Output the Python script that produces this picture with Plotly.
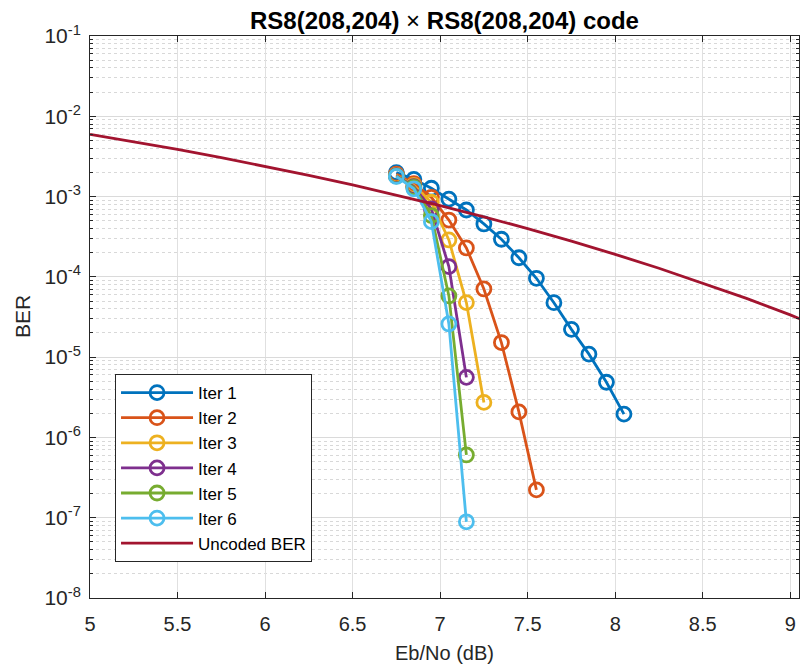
import plotly.graph_objects as go

# ---- data ----
ebno_iter = [6.75, 6.85, 6.95, 7.05, 7.15, 7.25, 7.35, 7.45, 7.55, 7.65, 7.75, 7.85, 7.95, 8.05]

iter1_ber = [1.99e-3, 1.64e-3, 1.27e-3, 9.3e-4, 6.8e-4, 4.56e-4, 2.94e-4, 1.73e-4,
             9.6e-5, 4.77e-5, 2.22e-5, 1.09e-5, 4.87e-6, 1.95e-6]
iter2_ber = [1.9e-3, 1.45e-3, 9.8e-4, 5.1e-4, 2.29e-4, 7.07e-5, 1.52e-5, 2.08e-6, 2.22e-7]
iter3_ber = [1.85e-3, 1.38e-3, 8.5e-4, 2.88e-4, 4.78e-5, 2.73e-6]
iter4_ber = [1.82e-3, 1.33e-3, 7.0e-4, 1.34e-4, 5.6e-6]
iter5_ber = [1.8e-3, 1.3e-3, 5.8e-4, 5.78e-5, 6.05e-7]
iter6_ber = [1.78e-3, 1.25e-3, 4.87e-4, 2.59e-5, 8.9e-8]

ebno_unc = [5.0, 5.25, 5.5, 5.75, 6.0, 6.25, 6.5, 6.75, 7.0, 7.25, 7.5, 7.75,
            8.0, 8.25, 8.5, 8.75, 9.0, 9.25, 9.5]
unc_ber = [5.95e-3, 4.83e-3, 3.86e-3, 3.05e-3, 2.39e-3, 1.84e-3, 1.40e-3, 1.05e-3,
           7.73e-4, 5.6e-4, 3.99e-4, 2.78e-4, 1.91e-4, 1.28e-4, 8.4e-5, 5.4e-5,
           3.36e-5, 2.03e-5, 1.21e-5]

series_names = ["Iter 1", "Iter 2", "Iter 3", "Iter 4", "Iter 5", "Iter 6"]
series_vals = [iter1_ber, iter2_ber, iter3_ber, iter4_ber, iter5_ber, iter6_ber]
colors = ["#0072BD", "#D95319", "#EDB120", "#7E2F8E", "#77AC30", "#4DBEEE"]
unc_color = "#A2142F"

ytick_exps = list(range(-8, 0))
ytick_vals = [10.0 ** e for e in ytick_exps]
ytick_text = ["10<sup>%d</sup>" % e for e in ytick_exps]
yminor_vals = [m * 10.0 ** e for e in range(-8, -1) for m in range(2, 10)]
xtick_vals = [5, 5.5, 6, 6.5, 7, 7.5, 8, 8.5, 9]
xtick_text = ["5", "5.5", "6", "6.5", "7", "7.5", "8", "8.5", "9"]

fig = go.Figure()
for name, vals, col in zip(series_names, series_vals, colors):
    fig.add_trace(go.Scatter(
        x=ebno_iter[:len(vals)], y=vals, name=name, mode="lines+markers",
        line=dict(color=col, width=2.8),
        marker=dict(symbol="circle-open", size=14, color=col, line=dict(width=2.8, color=col)),
    ))
fig.add_trace(go.Scatter(
    x=ebno_unc, y=unc_ber, name="Uncoded BER", mode="lines",
    line=dict(color=unc_color, width=2.8),
))

axis_col = "#262626"
fig.update_layout(
    width=800, height=666,
    margin=dict(l=90, r=1, t=36, b=68),
    paper_bgcolor="white", plot_bgcolor="white",
    font=dict(family="Liberation Sans, Arial, sans-serif", color=axis_col, size=20),
    showlegend=True,
    legend=dict(
        x=0.0353, y=0.064, xanchor="left", yanchor="bottom",
        bgcolor="white", bordercolor=axis_col, borderwidth=1,
        font=dict(size=17, color="#000000"), itemwidth=72,
        tracegroupgap=0,
    ),
    annotations=[
        dict(text="<b>RS8(208,204)</b> × <b>RS8(208,204) code</b>", xref="paper", yref="paper",
             x=0.5, y=1, yshift=16, xanchor="center", yanchor="middle", showarrow=False,
             font=dict(size=24, color="#000000")),
        dict(text="BER", xref="paper", yref="paper", x=0, xshift=-68, y=0.5,
             textangle=-90, xanchor="center", yanchor="middle", showarrow=False,
             font=dict(size=21, color=axis_col)),
        dict(text="Eb/No (dB)", xref="paper", yref="paper", x=0.5, y=0, yshift=-55,
             xanchor="center", yanchor="middle", showarrow=False,
             font=dict(size=20, color=axis_col)),
    ],
)
fig.update_xaxes(
    range=[5, 9.05], tickmode="array", tickvals=xtick_vals, ticktext=xtick_text,
    showline=True, linecolor=axis_col, linewidth=1, mirror="allticks",
    ticks="inside", ticklen=6, tickcolor=axis_col, ticklabelstandoff=8,
    showgrid=True, gridcolor="#E0E0E0", gridwidth=1, zeroline=False,
    tickfont=dict(size=20, color=axis_col),
)
fig.update_yaxes(
    type="log", range=[-8, -1], tickmode="array",
    tickvals=ytick_vals + [0.1], ticktext=ytick_text + ["10<sup>-1</sup>"],
    showline=True, linecolor=axis_col, linewidth=1, mirror="allticks",
    ticks="inside", ticklen=6, tickcolor=axis_col, ticklabelstandoff=4,
    showgrid=True, gridcolor="#DADADA", gridwidth=1, zeroline=False,
    tickfont=dict(size=21, color=axis_col),
    minor=dict(tickmode="array", tickvals=yminor_vals, ticks="inside", ticklen=3,
               tickcolor=axis_col, showgrid=True, gridcolor="#D8D8D8",
               griddash="dot", gridwidth=1),
)

fig.write_html("out.html")
